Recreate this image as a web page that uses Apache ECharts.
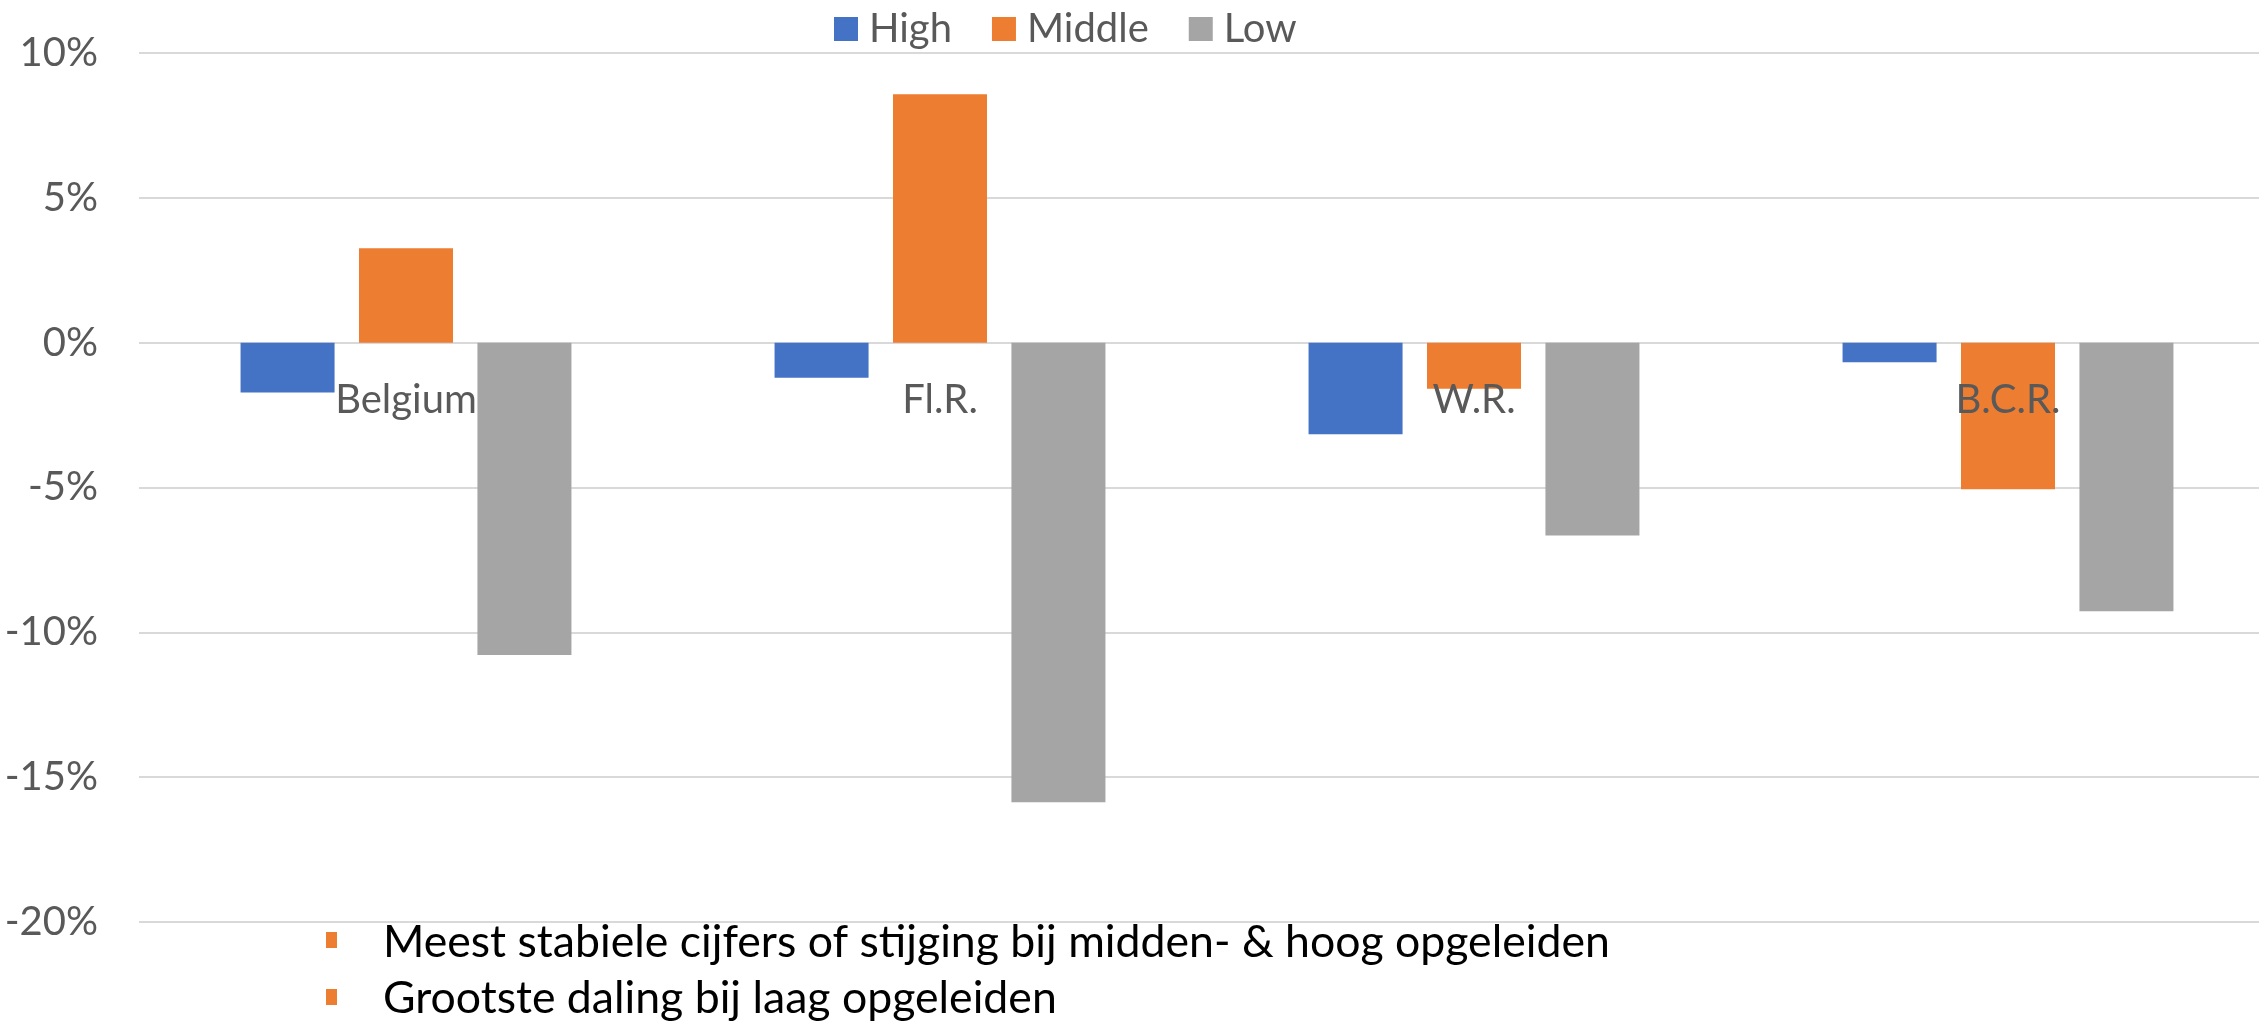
<!DOCTYPE html>
<html>
<head>
<meta charset="utf-8">
<script src="https://cdn.jsdelivr.net/npm/echarts@6/dist/echarts.min.js"></script>
<style>
html, body { margin: 0; padding: 0; background: #fff; }
#chart { width: 2259px; height: 1023px; }
</style>
</head>
<body>
<div id="chart"></div>
<script>
// change per education level, in %
var regions = ['Belgium', 'Fl.R.', 'W.R.', 'B.C.R.'];
var high = [-1.72, -1.21, -3.16, -0.68];
var middle = [3.26, 8.58, -1.59, -5.06];
var low = [-10.78, -15.87, -6.66, -9.27];
var notes = [
	'Meest stabiele cijfers of stijging bij midden- & hoog opgeleiden',
	'Grootste daling bij laag opgeleiden'
];

var font = 'Lato, "Noto Sans", sans-serif';
var myChart = echarts.init(document.getElementById('chart'));

function barSeries(name, data, color) {
	return {
		name: name,
		type: 'bar',
		data: data,
		barWidth: 94,
		barGap: '26%',
		itemStyle: { color: color },
		emphasis: { disabled: true }
	};
}

var option = {
	animation: false,
	backgroundColor: '#fff',
	textStyle: { fontFamily: font },
	legend: {
		left: 834,
		top: 9,
		padding: 0,
		itemWidth: 24,
		itemHeight: 24,
		itemGap: 40,
		icon: 'rect',
		textStyle: { fontSize: 40, color: '#595959', fontFamily: font, padding: [0, 0, 0, 6] },
		data: ['High', 'Middle', 'Low']
	},
	// plot area runs a little past the right edge, like the original
	grid: { left: 139, width: 2136, top: 53, bottom: 101, containLabel: false, outerBoundsMode: 'none' },
	xAxis: {
		type: 'category',
		data: regions,
		z: 10,
		// onZero does not take here, so shift the axis up to the 0% line
		offset: -579,
		axisLine: { show: false },
		axisTick: { show: false },
		axisLabel: { margin: 37, fontSize: 40, color: '#595959', fontFamily: font }
	},
	yAxis: {
		type: 'value',
		min: -20,
		max: 10,
		interval: 5,
		axisLine: { show: false },
		axisTick: { show: false },
		axisLabel: { margin: 41, fontSize: 40, color: '#595959', fontFamily: font, formatter: '{value}%' },
		splitLine: { lineStyle: { color: '#d9d9d9', width: 2 } }
	},
	series: [
		barSeries('High', high, '#4472c4'),
		barSeries('Middle', middle, '#ed7d31'),
		barSeries('Low', low, '#a5a5a5')
	],
	graphic: [
		{ type: 'rect', left: 326, top: 932, shape: { width: 11, height: 16 }, style: { fill: '#ed7d31' } },
		{ type: 'rect', left: 326, top: 989, shape: { width: 11, height: 16 }, style: { fill: '#ed7d31' } },
		{ type: 'text', x: 383, y: 943, style: { text: notes[0], font: '44.6px ' + font, fill: '#000', verticalAlign: 'middle' } },
		{ type: 'text', x: 383, y: 999, style: { text: notes[1], font: '44.6px ' + font, fill: '#000', verticalAlign: 'middle' } }
	]
};
myChart.setOption(option);
</script>
</body>
</html>
